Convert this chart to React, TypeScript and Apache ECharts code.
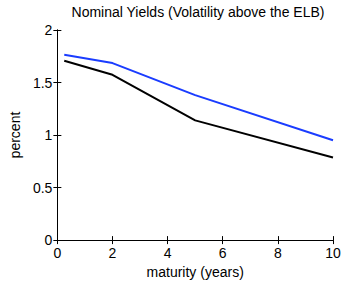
import React, { useEffect, useRef } from "react";
import * as echarts from "echarts";

const maturities = [0.25, 2, 5, 10];
const blueYields = [1.765, 1.685, 1.38, 0.95];
const blackYields = [1.707, 1.574, 1.14, 0.787];
const xTicks = [0, 2, 4, 6, 8, 10];
const yTicks = [0, 0.5, 1, 1.5, 2];

const FONT = "Liberation Sans, Arial, sans-serif";

export default function App() {
  const ref = useRef<HTMLDivElement>(null);
  useEffect(() => {
    if (!ref.current) return;
    const chart = echarts.init(ref.current, null, { renderer: "svg" });
    const axisCommon = {
      axisLine: { show: true, lineStyle: { color: "#000", width: 1 } },
      axisTick: { show: true, inside: true, length: 4, lineStyle: { color: "#000" } },
      splitLine: { show: false },
    };
    chart.setOption({
      animation: false,
      backgroundColor: "#fff",
      title: {
        text: "Nominal Yields (Volatility above the ELB)",
        left: 193,
        textAlign: "center",
        top: 0,
        textStyle: { fontFamily: FONT, fontSize: 14, fontWeight: "normal", color: "#000" },
      },
      grid: { left: 51, right: 11, top: 30, bottom: 39.5 },
      xAxis: [
        {
          type: "value",
          min: xTicks[0],
          max: xTicks[xTicks.length - 1],
          interval: 2,
          name: "maturity (years)",
          nameLocation: "middle",
          nameGap: 24,
          nameTextStyle: { fontFamily: FONT, fontSize: 14, color: "#000" },
          axisLabel: { fontFamily: FONT, fontSize: 14, color: "#000", margin: 6 },
          ...axisCommon,
        },
        {
          type: "value",
          position: "top",
          min: xTicks[0],
          max: xTicks[xTicks.length - 1],
          interval: 2,
          axisLabel: { show: false },
          ...axisCommon,
        },
      ],
      yAxis: [
        {
          type: "value",
          min: yTicks[0],
          max: yTicks[yTicks.length - 1],
          interval: 0.5,
          name: "percent",
          nameLocation: "middle",
          nameGap: 32,
          nameTextStyle: { fontFamily: FONT, fontSize: 14, color: "#000" },
          axisLabel: { fontFamily: FONT, fontSize: 14, color: "#000", margin: 5 },
          ...axisCommon,
        },
        {
          type: "value",
          position: "right",
          min: yTicks[0],
          max: yTicks[yTicks.length - 1],
          interval: 0.5,
          axisLabel: { show: false },
          ...axisCommon,
        },
      ],
      series: [
        {
          type: "line",
          data: maturities.map((m, i) => [m, blueYields[i]]),
          showSymbol: false,
          lineStyle: { color: "#1a3cff", width: 2 },
          z: 3,
        },
        {
          type: "line",
          data: maturities.map((m, i) => [m, blackYields[i]]),
          showSymbol: false,
          lineStyle: { color: "#000", width: 2 },
          z: 3,
        },
      ],
    });
    return () => chart.dispose();
  }, []);
  return <div ref={ref} style={{ width: 344, height: 284, position: "absolute", left: 0, top: 0 }} />;
}
